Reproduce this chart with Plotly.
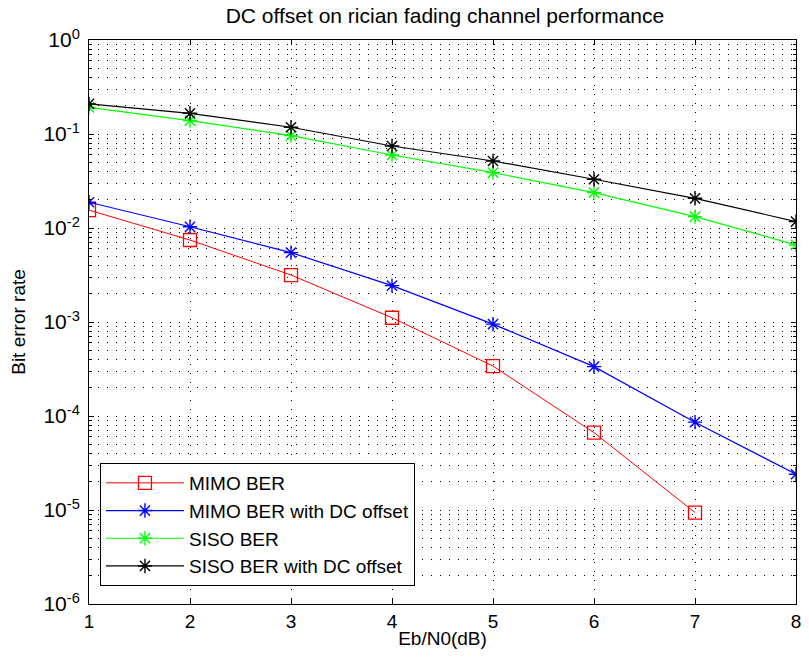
import plotly.graph_objects as go

ebn0 = [1, 2, 3, 4, 5, 6, 7, 8]
mimo_ber = [0.0155, 0.00745, 0.00316, 0.00111, 0.00034, 6.65e-5, 9.4e-6]
mimo_ber_dc = [0.0188, 0.0103, 0.00547, 0.00244, 0.00095, 0.000335, 8.6e-5, 2.4e-5]
siso_ber = [0.192, 0.139, 0.096, 0.0598, 0.0388, 0.0238, 0.0132, 0.0066]
siso_ber_dc = [0.209, 0.166, 0.118, 0.0745, 0.0516, 0.033, 0.0207, 0.0117]

series_names = ["MIMO BER", "MIMO BER with DC offset", "SISO BER", "SISO BER with DC offset"]
colors = ["#ff0000", "#0000ff", "#00ff00", "#000000"]

ytick_exps = [0, -1, -2, -3, -4, -5, -6]
ytick_vals = [10.0 ** e for e in ytick_exps]
ytick_text = ["10<sup>%d</sup>" % e for e in ytick_exps]
minor_vals = [m * 10.0 ** e for e in range(-6, 0) for m in range(2, 10)]

font = "Liberation Sans, Arial, sans-serif"

fig = go.Figure()
fig.add_trace(go.Scatter(
    x=ebn0[:len(mimo_ber)], y=mimo_ber, name=series_names[0], mode="lines+markers",
    line=dict(color=colors[0], width=1),
    marker=dict(symbol="square-open", size=13, color=colors[0], line=dict(width=1.3, color=colors[0])),
))
for name, vals, col in zip(series_names[1:], [mimo_ber_dc, siso_ber, siso_ber_dc], colors[1:]):
    fig.add_trace(go.Scatter(
        x=ebn0, y=vals, name=name, mode="lines+markers",
        line=dict(color=col, width=1.2),
        marker=dict(symbol="asterisk-open", size=12, color=col, line=dict(width=1.4, color=col)),
    ))

fig.update_layout(
    width=809, height=666,
    margin=dict(l=89, r=8, t=40, b=62),
    paper_bgcolor="white", plot_bgcolor="white",
    font=dict(family=font, size=18, color="black"),
    title=dict(text="DC offset on rician fading channel performance", x=0.55, xanchor="center",
               y=0.977, yanchor="middle", font=dict(size=21, family=font)),
    showlegend=True,
    legend=dict(x=0.0155, y=0.25, xanchor="left", yanchor="top",
                bgcolor="white", bordercolor="black", borderwidth=1,
                font=dict(size=19, family=font), tracegroupgap=0, itemwidth=78),
)
fig.update_xaxes(
    range=[1, 8], dtick=1, tick0=1,
    showline=True, linecolor="black", linewidth=1, mirror="ticks",
    ticks="inside", ticklen=5, tickcolor="black",
    showgrid=True, gridcolor="black", gridwidth=1, griddash="1px,8px",
    zeroline=False,
    title=dict(text="Eb/N0(dB)", standoff=0, font=dict(size=19)),
    tickfont=dict(size=19),
)
fig.update_yaxes(
    type="log", range=[-6, 0],
    tickmode="array", tickvals=ytick_vals, ticktext=ytick_text,
    showline=True, linecolor="black", linewidth=1, mirror="ticks",
    ticks="inside", ticklen=5, tickcolor="black",
    showgrid=True, gridcolor="black", gridwidth=1, griddash="1px,8px",
    minor=dict(tickmode="array", tickvals=minor_vals, ticks="inside", ticklen=3, tickcolor="black",
               showgrid=True, gridcolor="black", gridwidth=1, griddash="1px,8px"),
    zeroline=False,
    ticklabelstandoff=4,
    title=dict(text="Bit error rate", standoff=12, font=dict(size=19)),
    tickfont=dict(size=21),
)

fig.write_html("out.html", post_script="document.body.style.margin='0px';",
               config={"displayModeBar": False})
